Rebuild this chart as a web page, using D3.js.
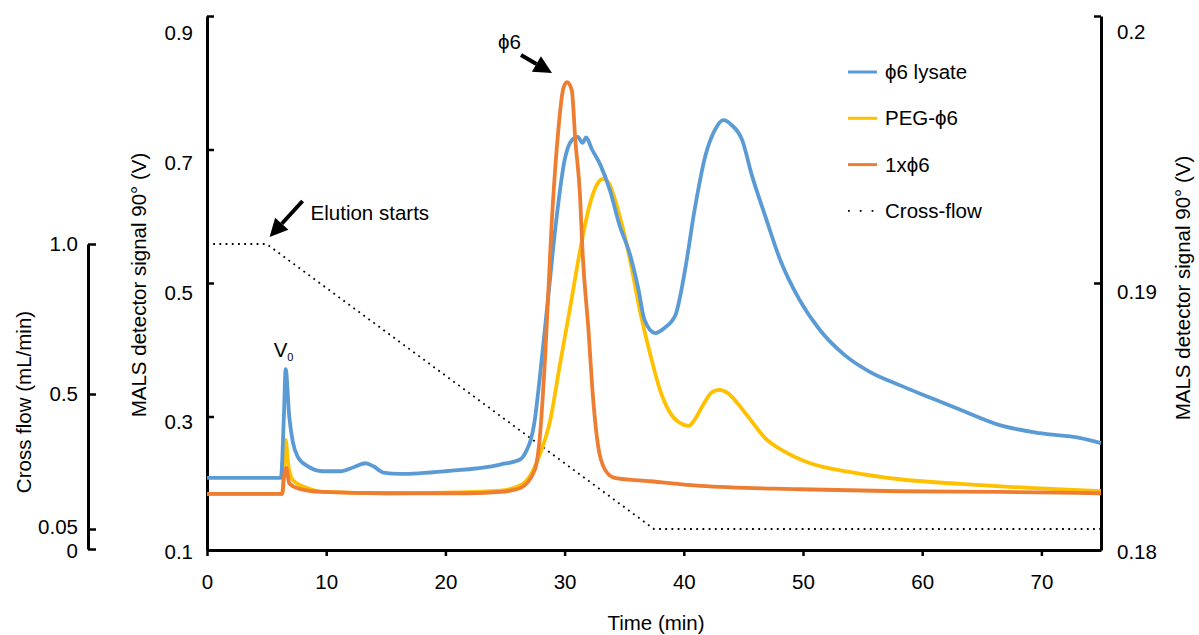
<!DOCTYPE html>
<html>
<head>
<meta charset="utf-8">
<script src="https://cdn.jsdelivr.net/npm/d3@7"></script>
<style>
  body { margin: 0; background: #fff; }
  svg text { font-family: "Liberation Sans", Arial, sans-serif; fill: #000; }
</style>
</head>
<body>
<div id="chart"></div>
<script>
const width = 1199;
const height = 635;
const fontSize = 20.5;

// MALS 90° signal (V) against time (min)
const lysateTime = [0, 6.2, 6.45, 6.6, 6.9, 7.2, 7.6, 8.4, 9.7, 11.2, 12.3, 13.3, 14.0, 14.8, 16.2, 20, 24.6, 26.3, 26.7, 27.5, 27.9, 28.6, 29.3, 30.0, 30.6, 31.1, 31.5, 31.8, 32.3, 33.0, 33.8, 34.6, 35.5, 36.2, 36.7, 37.6, 38.4, 39.3, 40.1, 40.9, 41.8, 42.6, 43.3, 44.0, 44.9, 45.7, 46.8, 48.1, 49.7, 51.4, 53.5, 55.6, 58.1, 60.7, 63.2, 66.5, 69.9, 73.2, 75];
const lysateSignal = [0.208, 0.208, 0.30, 0.371, 0.30, 0.262, 0.24, 0.226, 0.218, 0.218, 0.224, 0.230, 0.225, 0.216, 0.214, 0.218, 0.228, 0.236, 0.245, 0.295, 0.355, 0.475, 0.594, 0.684, 0.714, 0.719, 0.710, 0.718, 0.700, 0.677, 0.639, 0.587, 0.542, 0.490, 0.445, 0.425, 0.433, 0.452, 0.519, 0.609, 0.690, 0.729, 0.744, 0.737, 0.714, 0.662, 0.602, 0.534, 0.475, 0.430, 0.392, 0.367, 0.347, 0.328, 0.310, 0.287, 0.275, 0.268, 0.260];

const pegTime = [0, 6.3, 6.5, 6.6, 6.8, 7.2, 8.4, 10, 15, 20, 24.6, 26.3, 27.1, 27.9, 28.8, 29.6, 30.5, 31.3, 32.1, 32.7, 33.2, 33.7, 34.1, 34.6, 35.5, 36.3, 37.2, 38.0, 38.8, 39.7, 40.4, 40.9, 41.6, 42.4, 43.0, 43.7, 44.5, 45.6, 46.8, 48.5, 50.6, 53.9, 58.1, 63.2, 69.0, 75];
const pegSignal = [0.184, 0.184, 0.24, 0.265, 0.230, 0.205, 0.193, 0.187, 0.185, 0.186, 0.189, 0.197, 0.211, 0.242, 0.295, 0.377, 0.467, 0.549, 0.617, 0.647, 0.656, 0.650, 0.632, 0.602, 0.534, 0.460, 0.392, 0.340, 0.307, 0.290, 0.286, 0.295, 0.317, 0.337, 0.340, 0.335, 0.320, 0.295, 0.268, 0.247, 0.230, 0.217, 0.206, 0.199, 0.193, 0.188];

const pureTime = [0, 6.3, 6.5, 6.65, 6.9, 7.7, 9.6, 15, 22, 24.6, 26.3, 27.5, 27.9, 28.4, 28.9, 29.4, 29.9, 30.2, 30.6, 30.9, 31.3, 31.5, 32.0, 32.4, 32.8, 33.4, 34.2, 37.2, 41.4, 49.7, 58.1, 66.5, 75];
const pureSignal = [0.184, 0.184, 0.215, 0.223, 0.200, 0.192, 0.187, 0.185, 0.185, 0.187, 0.193, 0.220, 0.265, 0.400, 0.584, 0.714, 0.792, 0.801, 0.789, 0.714, 0.629, 0.549, 0.430, 0.325, 0.257, 0.220, 0.208, 0.203, 0.196, 0.191, 0.188, 0.187, 0.185];

// cross-flow programme (mL/min)
const flowTime = [0, 5, 37.5, 75];
const flowRate = [1.0, 1.0, 0.05, 0.05];

const seriesNames = ["\u03d56 lysate", "PEG-\u03d56", "1x\u03d56"];
const seriesColors = ["#5b9bd5", "#ffc000", "#ed7d31"];
const flowName = "Cross-flow";

const timeTicks = [0, 10, 20, 30, 40, 50, 60, 70];
const mainTicks = [0.1, 0.3, 0.5, 0.7, 0.9];
const rightTicks = [0.18, 0.19, 0.2];
const flowTicks = [0, 0.05, 0.5, 1.0];
const flowTickLabels = ["0", "0.05", "0.5", "1.0"];

const svg = d3.select("#chart")
  .append("svg")
  .attr("width", width)
  .attr("height", height)
  .attr("viewBox", `0 0 ${width} ${height}`);

const x = d3.scaleLinear().domain([0, 75]).range([207, 1101]);
const y = d3.scaleLinear().domain([0.1, 0.9]).range([550, 16]);
const yRight = d3.scaleLinear().domain([0.18, 0.2]).range([550, 16]);
// cross-flow axis is broken just above zero
const yFlow = d3.scaleLinear().domain([0, 0.05, 1]).range([549, 529, 244]);
// the printed tick labels sit a little below their ticks
const yLabel = d3.scaleLinear().domain([0.1, 0.9]).range([552, 33]);
const yRightLabel = d3.scaleLinear().domain([0.18, 0.2]).range([552, 32]);

function styleAxis(g) {
  g.select(".domain").attr("stroke-width", 3).attr("stroke", "#000");
  g.selectAll(".tick line").attr("stroke-width", 2.5).attr("stroke", "#000");
  g.selectAll(".tick text")
    .attr("font-size", fontSize)
    .attr("font-family", "'Liberation Sans', Arial, sans-serif");
}

// x axis
const gx = svg.append("g")
  .attr("transform", "translate(0,550)")
  .call(d3.axisBottom(x).tickValues(timeTicks).tickSizeInner(6).tickSizeOuter(0).tickPadding(18));
styleAxis(gx);

// left MALS axis
const gy = svg.append("g")
  .attr("transform", "translate(207,0)")
  .call(d3.axisLeft(y).tickValues(mainTicks).tickSizeInner(-7).tickSizeOuter(0)
    .tickPadding(14).tickFormat(d3.format(".1f")));
styleAxis(gy);
gy.selectAll(".tick text").attr("transform", d => `translate(0,${yLabel(d) - y(d)})`);

// right MALS axis
const gr = svg.append("g")
  .attr("transform", "translate(1101,0)")
  .call(d3.axisRight(yRight).tickValues(rightTicks).tickSizeInner(-7).tickSizeOuter(0)
    .tickPadding(16).tickFormat(d => d === 0.2 ? "0.2" : d3.format(".2f")(d)));
styleAxis(gr);
gr.selectAll(".tick text").attr("transform", d => `translate(0,${yRightLabel(d) - yRight(d)})`);

// cross-flow axis
const gf = svg.append("g")
  .attr("transform", "translate(88,0)")
  .call(d3.axisLeft(yFlow).tickValues(flowTicks).tickSizeInner(-8).tickSizeOuter(0)
    .tickPadding(10).tickFormat((d, i) => flowTickLabels[i]));
styleAxis(gf);
// nudge the two crowded bottom labels apart
gf.selectAll(".tick text")
  .attr("transform", d => d === 0 ? "translate(0,2)" : d === 0.05 ? "translate(0,-2)" : null);

// axis titles
svg.append("text")
  .attr("x", 656).attr("y", 630)
  .attr("text-anchor", "middle")
  .attr("font-size", fontSize)
  .text("Time (min)");

svg.append("text")
  .attr("transform", "translate(146,285) rotate(-90)")
  .attr("text-anchor", "middle")
  .attr("font-size", fontSize)
  .text("MALS detector signal 90\u00b0 (V)");

svg.append("text")
  .attr("transform", "translate(1190,288) rotate(-90)")
  .attr("text-anchor", "middle")
  .attr("font-size", fontSize)
  .text("MALS detector signal 90\u00b0 (V)");

svg.append("text")
  .attr("transform", "translate(31,402) rotate(-90)")
  .attr("text-anchor", "middle")
  .attr("font-size", fontSize)
  .text("Cross flow (mL/min)");

// cross-flow dotted line
const flowLine = d3.line()
  .x((d, i) => x(flowTime[i]))
  .y(d => yFlow(d));

svg.append("path")
  .datum(flowRate)
  .attr("fill", "none")
  .attr("stroke", "#000")
  .attr("stroke-width", 1.8)
  .attr("stroke-dasharray", "1.8 4.4")
  .attr("d", flowLine);

// signal lines
const series = [
  { time: pegTime, values: pegSignal, color: seriesColors[1] },
  { time: lysateTime, values: lysateSignal, color: seriesColors[0] },
  { time: pureTime, values: pureSignal, color: seriesColors[2] }
];

series.forEach(s => {
  const line = d3.line()
    .x((d, i) => x(s.time[i]))
    .y(d => y(d))
    .curve(d3.curveMonotoneX);
  svg.append("path")
    .datum(s.values)
    .attr("fill", "none")
    .attr("stroke", s.color)
    .attr("stroke-width", 3.8)
    .attr("stroke-linejoin", "round")
    .attr("d", line);
});

// legend
const legend = svg.append("g").attr("transform", "translate(848,72)");
const legendRows = seriesNames.concat([flowName]);
legendRows.forEach((name, i) => {
  const row = legend.append("g").attr("transform", `translate(0,${i * 46.3})`);
  const ln = row.append("line")
    .attr("x1", 0).attr("x2", 29)
    .attr("y1", 0).attr("y2", 0);
  if (i < seriesColors.length) {
    ln.attr("stroke", seriesColors[i]).attr("stroke-width", 3);
  } else {
    ln.attr("stroke", "#000").attr("stroke-width", 1.8).attr("stroke-dasharray", "1.8 10");
  }
  row.append("text")
    .attr("x", 37).attr("y", 7)
    .attr("font-size", fontSize)
    .text(name);
});

// annotations
function arrow(x1, y1, x2, y2) {
  const ang = Math.atan2(y2 - y1, x2 - x1);
  const headLen = 18, headW = 9;
  const bx = x2 - headLen * Math.cos(ang), by = y2 - headLen * Math.sin(ang);
  svg.append("line")
    .attr("x1", x1).attr("y1", y1).attr("x2", bx).attr("y2", by)
    .attr("stroke", "#000").attr("stroke-width", 4);
  const px = -Math.sin(ang) * headW, py = Math.cos(ang) * headW;
  svg.append("polygon")
    .attr("points", `${x2},${y2} ${bx + px},${by + py} ${bx - px},${by - py}`)
    .attr("fill", "#000");
}

const elutionX = x(flowTime[1]);
arrow(elutionX + 36, 201, elutionX + 3, 237);
svg.append("text")
  .attr("x", elutionX + 44).attr("y", 220)
  .attr("font-size", fontSize)
  .text("Elution starts");

const peakX = x(30.2);
const peakY = y(d3.max(pureSignal));
arrow(peakX - 46, peakY - 27, peakX - 15, peakY - 9);
svg.append("text")
  .attr("x", peakX - 69).attr("y", peakY - 33)
  .attr("font-size", fontSize)
  .text("\u03d56");

const v0 = svg.append("text")
  .attr("x", x(6.6) - 12).attr("y", y(0.371) - 12)
  .attr("font-size", fontSize);
v0.append("tspan").text("V");
v0.append("tspan").attr("font-size", 11).attr("dy", 4).text("0");
</script>
</body>
</html>
